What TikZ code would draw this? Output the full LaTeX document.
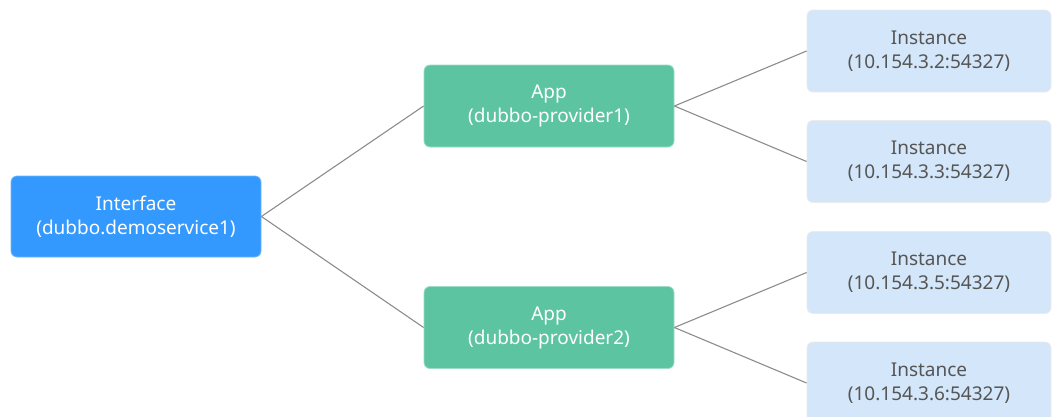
\documentclass[tikz,border=0pt]{standalone}
\usepackage{fontspec}
\setmainfont{Noto Sans}
\definecolor{ifblue}{RGB}{51,153,255}
\definecolor{appgreen}{RGB}{92,196,160}
\definecolor{instblue}{RGB}{212,230,249}
\definecolor{insttext}{RGB}{85,85,85}
\definecolor{linegray}{RGB}{140,140,140}
\begin{document}
\begin{tikzpicture}[x=1pt,y=-1pt,
  box/.style={rounded corners=6pt, align=center, inner sep=0pt,
    font=\fontsize{19}{24}\selectfont, line width=0.8pt},
  ifbox/.style={box, fill=ifblue, draw=ifblue!70!white, text=white,
    minimum width=250pt, minimum height=81pt},
  appbox/.style={box, fill=appgreen, draw=appgreen!60!white, text=white,
    minimum width=250pt, minimum height=82pt},
  instbox/.style={box, fill=instblue, draw=black!8, text=insttext,
    minimum width=244pt, minimum height=82pt},
  conn/.style={draw=linegray, line width=1.1pt}]
\useasboundingbox (0,0) rectangle (1052,416);
\clip (0,0) rectangle (1052,416);
\node[ifbox] (if) at (136,216.5) {Interface\\(dubbo.demoservice1)};
\node[appbox] (a1) at (549,106) {App\\(dubbo-provider1)};
\node[appbox] (a2) at (549,327.5) {App\\(dubbo-provider2)};
\node[instbox] (i1) at (929,51) {Instance\\(10.154.3.2:54327)};
\node[instbox] (i2) at (929,161.5) {Instance\\(10.154.3.3:54327)};
\node[instbox] (i3) at (929,272.5) {Instance\\(10.154.3.5:54327)};
\node[instbox] (i4) at (929,383) {Instance\\(10.154.3.6:54327)};
\draw[conn] (if.east) -- (a1.west);
\draw[conn] (if.east) -- (a2.west);
\draw[conn] (a1.east) -- (i1.west);
\draw[conn] (a1.east) -- (i2.west);
\draw[conn] (a2.east) -- (i3.west);
\draw[conn] (a2.east) -- (i4.west);
\end{tikzpicture}
\end{document}
